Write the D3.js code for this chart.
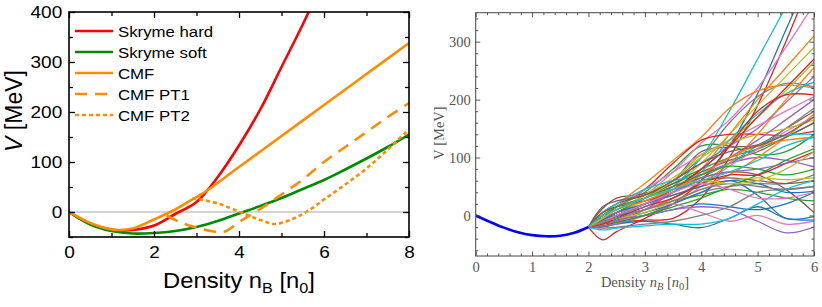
<!DOCTYPE html>
<html><head><meta charset="utf-8">
<script src="https://cdn.jsdelivr.net/npm/d3@7"></script>
<style>body{margin:0;background:#fff}svg{display:block}</style>
</head><body>
<svg id="c" width="822" height="307"></svg>
<script>
// ---------------- LEFT PANEL DATA ----------------
const legendLabels = ["Skryme hard", "Skryme soft", "CMF", "CMF PT1", "CMF PT2"];
const leftXTicks = [0, 2, 4, 6, 8];
const leftYTicks = [0, 100, 200, 300, 400];

const hardN = [0, 0.5, 1, 1.3, 1.6, 2, 2.5, 3, 3.5, 4, 4.5, 5, 5.5, 5.8];
const hardV = [0, -24, -35, -37, -35, -27, -4, 20, 70, 133, 205, 290, 375, 430];

const softN = [0, 0.5, 1, 1.5, 2, 2.5, 3, 3.5, 4, 4.5, 5, 5.5, 6, 6.5, 7, 7.5, 8];
const softV = [0, -25, -38, -43, -42, -38, -30, -18, -3, 12, 28, 46, 64, 85, 107, 130, 155];

const cmfN = [0, 0.5, 1, 1.2, 1.5, 2, 2.5, 3, 3.2, 4, 5, 6, 7, 8];
const cmfV = [0, -22, -35, -36, -33, -15, 5, 30, 40, 90, 152, 214, 276, 338];

const pt1N = [2.3, 2.6, 3, 3.5, 3.7, 4, 4.5, 5, 5.5, 6, 6.5, 7, 7.5, 8];
const pt1V = [-7, -20, -31, -40, -38, -20, 6, 35, 65, 100, 130, 160, 190, 218];

const pt2N = [2.9, 3.1, 3.5, 4, 4.5, 4.85, 5.2, 5.6, 6, 6.5, 7, 7.5, 8];
const pt2V = [27, 25, 17, 1, -16, -24, -16, 1, 25, 55, 87, 125, 165];

// ---------------- RIGHT PANEL DATA ----------------
const rightXTicks = [0, 1, 2, 3, 4, 5, 6];
const rightYTicks = [0, 100, 200, 300];
const baseN = [0, 0.25, 0.5, 0.75, 1, 1.25, 1.5, 1.75, 2];
const baseV = [0, -11, -21, -29, -34, -36, -35, -30, -20];
const ensN = [2, 2.25, 2.5, 3, 3.5, 4, 4.5, 5, 5.5, 6];
const ensemble = [
  [-20, -12, -2, 10, 30, 60, 120, 210, 320, 430],
  [-20, -10, 0, 15, 40, 80, 140, 200, 255, 310],
  [-20, -5, 15, 40, 80, 120, 120, 105, 110, 140],
  [-20, -18, -12, -8, -5, 30, 100, 190, 300, 420],
  [-20, -8, 5, 30, 60, 90, 120, 150, 195, 240],
  [-20, 12, 30, 38, 60, 110, 118, 122, 150, 180],
  [-20, -5, 10, 35, 75, 125, 165, 220, 290, 365],
  [-20, -5, 5, 30, 60, 100, 160, 205, 228, 222],
  [-20, -5, 5, 25, 50, 90, 140, 190, 240, 290],
  [-20, -8, 5, 20, 50, 100, 180, 270, 360, 450],

  [-20, -15, -8, 0, 10, 20, 15, 10, 20, 40],
  [-20, 5, 20, 55, 95, 135, 185, 215, 225, 220],
  [-20, -5, 5, 30, 55, 80, 100, 115, 135, 160],
  [-20, -5, 15, 45, 90, 130, 140, 140, 138, 145],
  [-20, -10, 0, 20, 45, 70, 90, 100, 95, 84],
  [-20, 0, 15, 30, 50, 65, 75, 70, 45, 5],
  [-20, 0, 15, 45, 75, 105, 130, 155, 180, 205],
  [-20, -10, 0, 20, 40, 65, 90, 115, 150, 185],
  [-20, 0, 10, 35, 65, 100, 130, 170, 215, 265],
  [-20, -10, 0, 15, 40, 75, 130, 175, 210, 230],

  [-20, -20, -15, -10, -15, -21, -5, 15, -5, -8],
  [-20, -10, 0, 20, 35, 50, 70, 100, 135, 175],
  [-20, -5, 0, 10, 25, 35, 45, 40, 30, 25],
  [-20, -42, -28, -5, 20, 60, 120, 180, 208, 208],
  [-20, -12, -5, 0, 10, 15, 10, -10, -30, -20],
  [-20, 5, 20, 35, 55, 75, 95, 110, 135, 160],
  [-20, -15, -10, 0, 20, 50, 85, 115, 145, 170],
  [-20, -18, -15, 0, 20, 40, 50, 55, 55, 70],
  [-20, 5, 15, 30, 60, 105, 125, 140, 150, 165],
  [-20, 5, 20, 45, 60, 70, 90, 120, 138, 140],

  [-20, -10, -5, 5, 20, 40, 60, 35, -5, -2],
  [-20, -15, -10, 10, 30, 55, 90, 140, 200, 255],
  [-20, -15, -12, 0, 15, 30, 50, 70, 95, 115],
  [-20, -10, 0, 20, 45, 80, 120, 170, 220, 270],
  [-20, -12, -10, 10, 40, 70, 100, 130, 165, 200],
  [-20, 5, 15, 25, 40, 60, 65, 60, 55, 60],
  [-20, -15, -5, 10, 20, 5, -10, 0, -15, -10],
  [-20, -22, -20, -15, -10, 0, 15, 40, 45, 50],
  [-20, -10, -5, 5, 25, 45, 60, 65, 62, 65],
  [-20, -25, -22, -18, -15, -15, -5, 20, 45, 60],

  [-20, -8, 5, 20, 35, 50, 60, 55, 40, 42],
  [-20, -5, 10, 25, 45, 70, 100, 120, 130, 135],
  [-20, 0, 15, 30, 50, 70, 85, 80, 70, 80],
  [-20, -15, -5, 15, 30, 55, 70, 70, 90, 110],
  [-20, -5, 5, 15, 40, 65, 75, 80, 90, 100],
  [-20, 15, 25, 35, 60, 90, 110, 120, 140, 170],
  [-20, -10, 0, 20, 40, 55, 45, 30, 30, 40],
  [-20, -10, -5, 10, 25, 45, 55, 50, 45, 50],
  [-20, -5, 10, 30, 45, 60, 55, 60, 80, 110],
  [-20, 0, 10, 30, 45, 60, 75, 95, 120, 135]
];

// ---------------- DRAWING ----------------
const svg = d3.select("#c");
const SX = 1.12; // horizontal stretch of the left panel text

// ===== Left panel =====
const L = {x0: 69, x1: 409, y0: 12, y1: 237};
const lx = d3.scaleLinear().domain([0, 8]).range([L.x0, L.x1]);
const ly = d3.scaleLinear().domain([-50, 400]).range([L.y1, L.y0]);
const lg = svg.append("g");
lg.append("clipPath").attr("id", "clipL").append("rect")
  .attr("x", L.x0).attr("y", L.y0).attr("width", L.x1 - L.x0).attr("height", L.y1 - L.y0);

// zero line
lg.append("line").attr("x1", lx(0)).attr("x2", lx(8)).attr("y1", ly(0)).attr("y2", ly(0))
  .attr("stroke", "#c4c4c4").attr("stroke-width", 1.5);

const lineL = (ns, vs) => d3.line().curve(d3.curveCatmullRom.alpha(0.5))
  .x((d, i) => lx(ns[i])).y((d, i) => ly(vs[i]))(vs);

const curvesL = [
  {n: hardN, v: hardV, c: "#ff0000", dash: null},
  {n: softN, v: softV, c: "#008a00", dash: null},
  {n: cmfN, v: cmfV, c: "#ff8c00", dash: null},
  {n: pt1N, v: pt1V, c: "#ff8c00", dash: "12,8"},
  {n: pt2N, v: pt2V, c: "#ff8c00", dash: "4,3"}
];
const cg = lg.append("g").attr("clip-path", "url(#clipL)");
curvesL.forEach(s => {
  cg.append("path").attr("d", lineL(s.n, s.v)).attr("fill", "none")
    .attr("stroke", s.c).attr("stroke-width", 2.6).attr("stroke-dasharray", s.dash);
});

// axes (inward ticks)
const fontL = "'Liberation Sans', Arial, sans-serif";
function stretchText(sel) { sel.attr("transform", `scale(${SX},1)`); }
const axB = lg.append("g").attr("transform", `translate(0,${L.y1})`)
  .call(d3.axisBottom(lx).tickValues(leftXTicks).tickSize(-6).tickPadding(9));
axB.selectAll("text").attr("font-size", 17).attr("font-family", fontL).attr("fill", "#000").call(stretchText);
lg.append("g").attr("transform", `translate(0,${L.y1})`)
  .call(d3.axisBottom(lx).tickValues([1, 3, 5, 7]).tickSize(-4).tickFormat(""));
const axLft = lg.append("g").attr("transform", `translate(${L.x0},0)`)
  .call(d3.axisLeft(ly).tickValues(leftYTicks).tickSize(-6).tickPadding(6));
axLft.selectAll("text").attr("font-size", 17).attr("font-family", fontL).attr("fill", "#000").call(stretchText);
lg.append("g").attr("transform", `translate(${L.x0},0)`)
  .call(d3.axisLeft(ly).tickValues([-50, 50, 150, 250, 350]).tickSize(-4).tickFormat(""));
lg.append("g").attr("transform", `translate(${L.x1},0)`)
  .call(d3.axisRight(ly).tickValues(leftYTicks).tickSize(-6).tickFormat(""));
lg.append("g").attr("transform", `translate(${L.x1},0)`)
  .call(d3.axisRight(ly).tickValues([-50, 50, 150, 250, 350]).tickSize(-4).tickFormat(""));
lg.append("g").attr("transform", `translate(0,${L.y0})`)
  .call(d3.axisTop(lx).tickValues(leftXTicks).tickSize(-6).tickFormat(""));
lg.append("g").attr("transform", `translate(0,${L.y0})`)
  .call(d3.axisTop(lx).tickValues([1, 3, 5, 7]).tickSize(-4).tickFormat(""));
lg.selectAll(".domain").remove();
lg.selectAll(".tick line").attr("stroke", "#000").attr("stroke-width", 1.3);
lg.append("rect").attr("x", L.x0).attr("y", L.y0).attr("width", L.x1 - L.x0).attr("height", L.y1 - L.y0)
  .attr("fill", "none").attr("stroke", "#000").attr("stroke-width", 1.6);

// legend
const legRow = d3.scaleLinear().domain([0, 4]).range([31, 115]);
curvesL.forEach((s, i) => {
  const y = legRow(i);
  lg.append("line").attr("x1", 75).attr("x2", 113).attr("y1", y).attr("y2", y)
    .attr("stroke", s.c).attr("stroke-width", 2.6).attr("stroke-dasharray", s.dash);
  lg.append("text").attr("transform", `translate(118,${y + 5.5}) scale(${SX},1)`)
    .attr("font-family", fontL).attr("font-size", 15).text(legendLabels[i]);
});

// axis titles
const yt = lg.append("text").attr("transform", `translate(22,111) rotate(-90)`)
  .attr("text-anchor", "middle").attr("font-family", fontL).attr("font-size", 23);
yt.append("tspan").attr("font-style", "italic").text("V");
yt.append("tspan").text(" [MeV]");
const xt = lg.append("text").attr("transform", `translate(239,288) scale(1.08,1)`)
  .attr("text-anchor", "middle").attr("font-family", fontL).attr("font-size", 22);
xt.append("tspan").text("Density n");
xt.append("tspan").attr("font-size", 15).attr("dy", 5).text("B");
xt.append("tspan").attr("dy", -5).text(" [n");
xt.append("tspan").attr("font-size", 15).attr("dy", 5).text("0");
xt.append("tspan").attr("dy", -5).text("]");

// ===== Right panel =====
const R = {x0: 475.7, x1: 814, y0: 12.7, y1: 256};
const rx = d3.scaleLinear().domain([0, 6]).range([R.x0, R.x1]);
const ry = d3.scaleLinear().domain([-70, 350]).range([R.y1, R.y0]);
const rg = svg.append("g");
rg.append("clipPath").attr("id", "clipR").append("rect")
  .attr("x", R.x0).attr("y", R.y0).attr("width", R.x1 - R.x0).attr("height", R.y1 - R.y0);
const rc = rg.append("g").attr("clip-path", "url(#clipR)");
const tab10 = d3.schemeCategory10;
const lineR = d3.line().curve(d3.curveCatmullRom.alpha(0.5))
  .x((d, i) => rx(ensN[i])).y(d => ry(d));
ensemble.forEach((vs, k) => {
  rc.append("path").attr("d", lineR(vs)).attr("fill", "none")
    .attr("stroke", tab10[k % 10]).attr("stroke-width", 1.3);
});
rc.append("path")
  .attr("d", d3.line().curve(d3.curveCatmullRom.alpha(0.5)).x((d, i) => rx(baseN[i])).y(d => ry(d))(baseV))
  .attr("fill", "none").attr("stroke", "#0000ff").attr("stroke-width", 2.6);

const fontR = "'Liberation Serif', 'Times New Roman', serif";
const gray = "#555";
const minorX = d3.range(0, 6.001, 0.2).filter(v => Math.abs(v - Math.round(v)) > 1e-6);
const minorY = d3.range(-60, 350, 20).filter(v => v % 100 !== 0);
const rB = rg.append("g").attr("transform", `translate(0,${R.y1})`)
  .call(d3.axisBottom(rx).tickValues(rightXTicks).tickSize(-4.5).tickPadding(6).tickFormat(d3.format("d")));
rB.selectAll("text").attr("font-size", 14.5).attr("font-family", fontR).attr("fill", gray);
rg.append("g").attr("transform", `translate(0,${R.y1})`)
  .call(d3.axisBottom(rx).tickValues(minorX).tickSize(-2.5).tickFormat(""));
const rL = rg.append("g").attr("transform", `translate(${R.x0},0)`)
  .call(d3.axisLeft(ry).tickValues(rightYTicks).tickSize(-4.5).tickPadding(5).tickFormat(d3.format("d")));
rL.selectAll("text").attr("font-size", 14.5).attr("font-family", fontR).attr("fill", gray);
rg.append("g").attr("transform", `translate(${R.x0},0)`)
  .call(d3.axisLeft(ry).tickValues(minorY).tickSize(-2.5).tickFormat(""));
rg.append("g").attr("transform", `translate(0,${R.y0})`)
  .call(d3.axisTop(rx).tickValues(rightXTicks).tickSize(-4.5).tickFormat(""));
rg.append("g").attr("transform", `translate(0,${R.y0})`)
  .call(d3.axisTop(rx).tickValues(minorX).tickSize(-2.5).tickFormat(""));
rg.append("g").attr("transform", `translate(${R.x1},0)`)
  .call(d3.axisRight(ry).tickValues(rightYTicks).tickSize(-4.5).tickFormat(""));
rg.append("g").attr("transform", `translate(${R.x1},0)`)
  .call(d3.axisRight(ry).tickValues(minorY).tickSize(-2.5).tickFormat(""));
rg.selectAll(".domain").remove();
rg.selectAll(".tick line").attr("stroke", "#444").attr("stroke-width", 0.9);
rg.append("rect").attr("x", R.x0).attr("y", R.y0).attr("width", R.x1 - R.x0).attr("height", R.y1 - R.y0)
  .attr("fill", "none").attr("stroke", "#444").attr("stroke-width", 1);

const ryt = rg.append("text").attr("transform", `translate(444,133) rotate(-90)`)
  .attr("text-anchor", "middle").attr("font-family", fontR).attr("font-size", 14.5).attr("fill", gray);
ryt.text("V [MeV]");
const rxt = rg.append("text").attr("x", 645).attr("y", 287)
  .attr("text-anchor", "middle").attr("font-family", fontR).attr("font-size", 14.5).attr("fill", gray);
rxt.append("tspan").text("Density ");
rxt.append("tspan").attr("font-style", "italic").text("n");
rxt.append("tspan").attr("font-style", "italic").attr("font-size", 10.5).attr("dy", 3).text("B");
rxt.append("tspan").attr("dy", -3).text(" [");
rxt.append("tspan").attr("font-style", "italic").text("n");
rxt.append("tspan").attr("font-size", 10.5).attr("dy", 3).text("0");
rxt.append("tspan").attr("dy", -3).text("]");
</script>
</body></html>
